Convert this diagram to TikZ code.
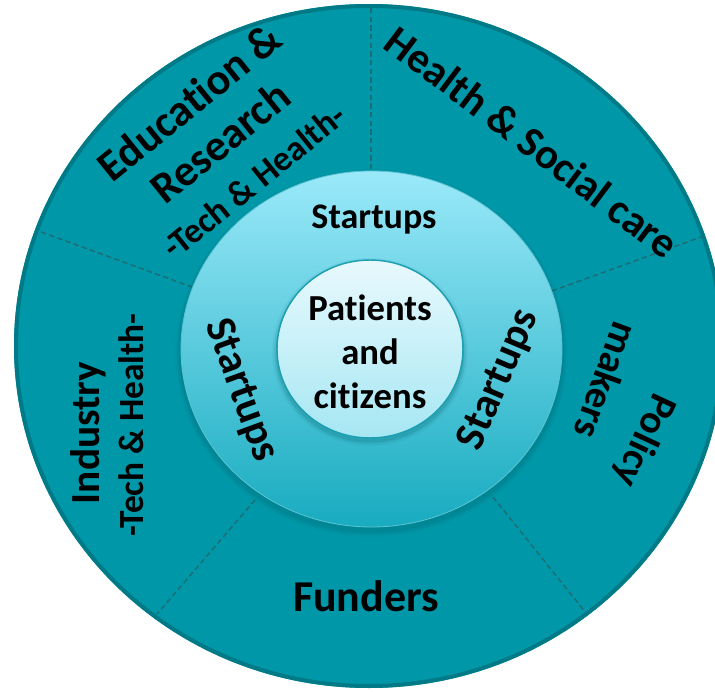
\documentclass[tikz,border=0pt]{standalone}
\usepackage{fontspec}
\setmainfont{Carlito}[Ligatures={NoCommon}]
\definecolor{ring}{HTML}{0098A8}
\definecolor{rim}{HTML}{007A86}
\definecolor{divider}{HTML}{1D6D76}
\definecolor{midtop}{HTML}{9AE9F9}
\definecolor{midbot}{HTML}{18ABC0}
\definecolor{intop}{HTML}{E8F9FD}
\definecolor{inbot}{HTML}{A6E7F3}
\definecolor{inborder}{HTML}{1C9FB0}
\definecolor{shadowc}{HTML}{05606A}
\tikzset{
  lbl/.style={font=\bfseries\fontsize{#1}{#1}\selectfont, text=black, inner sep=0pt},
  divline/.style={draw=divider, line width=1.1pt, dash pattern=on 4pt off 2.5pt},
}
\begin{document}
\begin{tikzpicture}[x=0.75pt,y=-0.75pt]
\useasboundingbox (0,0) rectangle (715,692);
\clip (0,0) rectangle (715,692);
% outer ring
\fill[ring] (369,346) ellipse [x radius=355, y radius=342];
\draw[rim, line width=3pt] (369,346) ellipse [x radius=353, y radius=340];
% dividers
\draw[divline] (371,8) -- (371,171);
\draw[divline] (552,291) -- (701,237);
\draw[divline] (493,497) -- (586,613);
\draw[divline] (255,500) -- (157,614);
\draw[divline] (41,232) -- (192,287);
% middle shadow
\foreach \k/\o in {6/0.06,4/0.10,2/0.14}{
  \fill[shadowc, opacity=\o] (371.5,353) ellipse [x radius=190.5+\k, y radius=178+\k];
}
% middle
\shade[top color=midtop, bottom color=midbot] (371.5,349) ellipse [x radius=190.5, y radius=178];
\draw[midbot!70!white, line width=0.6pt] (371.5,349) ellipse [x radius=190.5, y radius=178];
% inner shadow
\foreach \k/\o in {5/0.06,3/0.10,1.5/0.14}{
  \fill[shadowc, opacity=\o] (370,352) ellipse [x radius=93+\k, y radius=89+\k];
}
% inner
\shade[top color=intop, bottom color=inbot] (370,349) ellipse [x radius=93, y radius=89];
\draw[inborder, line width=1.1pt] (370,349) ellipse [x radius=93, y radius=89];
% labels
\node[lbl=27] (st) at (374,220) {Startups};
\node[lbl=27.5] (p1) at (370,308) {Patients};
\node[lbl=27.5] (p2) at (370,352) {and};
\node[lbl=27.5] (p3) at (370,396) {citizens};
\node[lbl=33] (fu) at (366,596) {Funders};
\node[lbl=32, rotate=-37] (hs) at (532,142) {Health \& Social care};
\node[lbl=33, rotate=39] (e1) at (189,102) {Education \&};
\node[lbl=33, rotate=39] (e2) at (220,142) {Research};
\node[lbl=26.5, rotate=39] (e3) at (254,181) {-Tech \& Health-};
\node[lbl=31, rotate=90] (i1) at (88,433) {Industry};
\node[lbl=26.5, rotate=90] (i2) at (131,425) {-Tech \& Health-};
\node[lbl=30, rotate=-115] (po1) at (644,440) {Policy};
\node[lbl=30, rotate=-110] (po2) at (607,381) {makers};
\node[lbl=32, rotate=-70] (sl) at (241,390) {Startups};
\node[lbl=32, rotate=67] (sr) at (499,380) {Startups};
\end{tikzpicture}
\end{document}
